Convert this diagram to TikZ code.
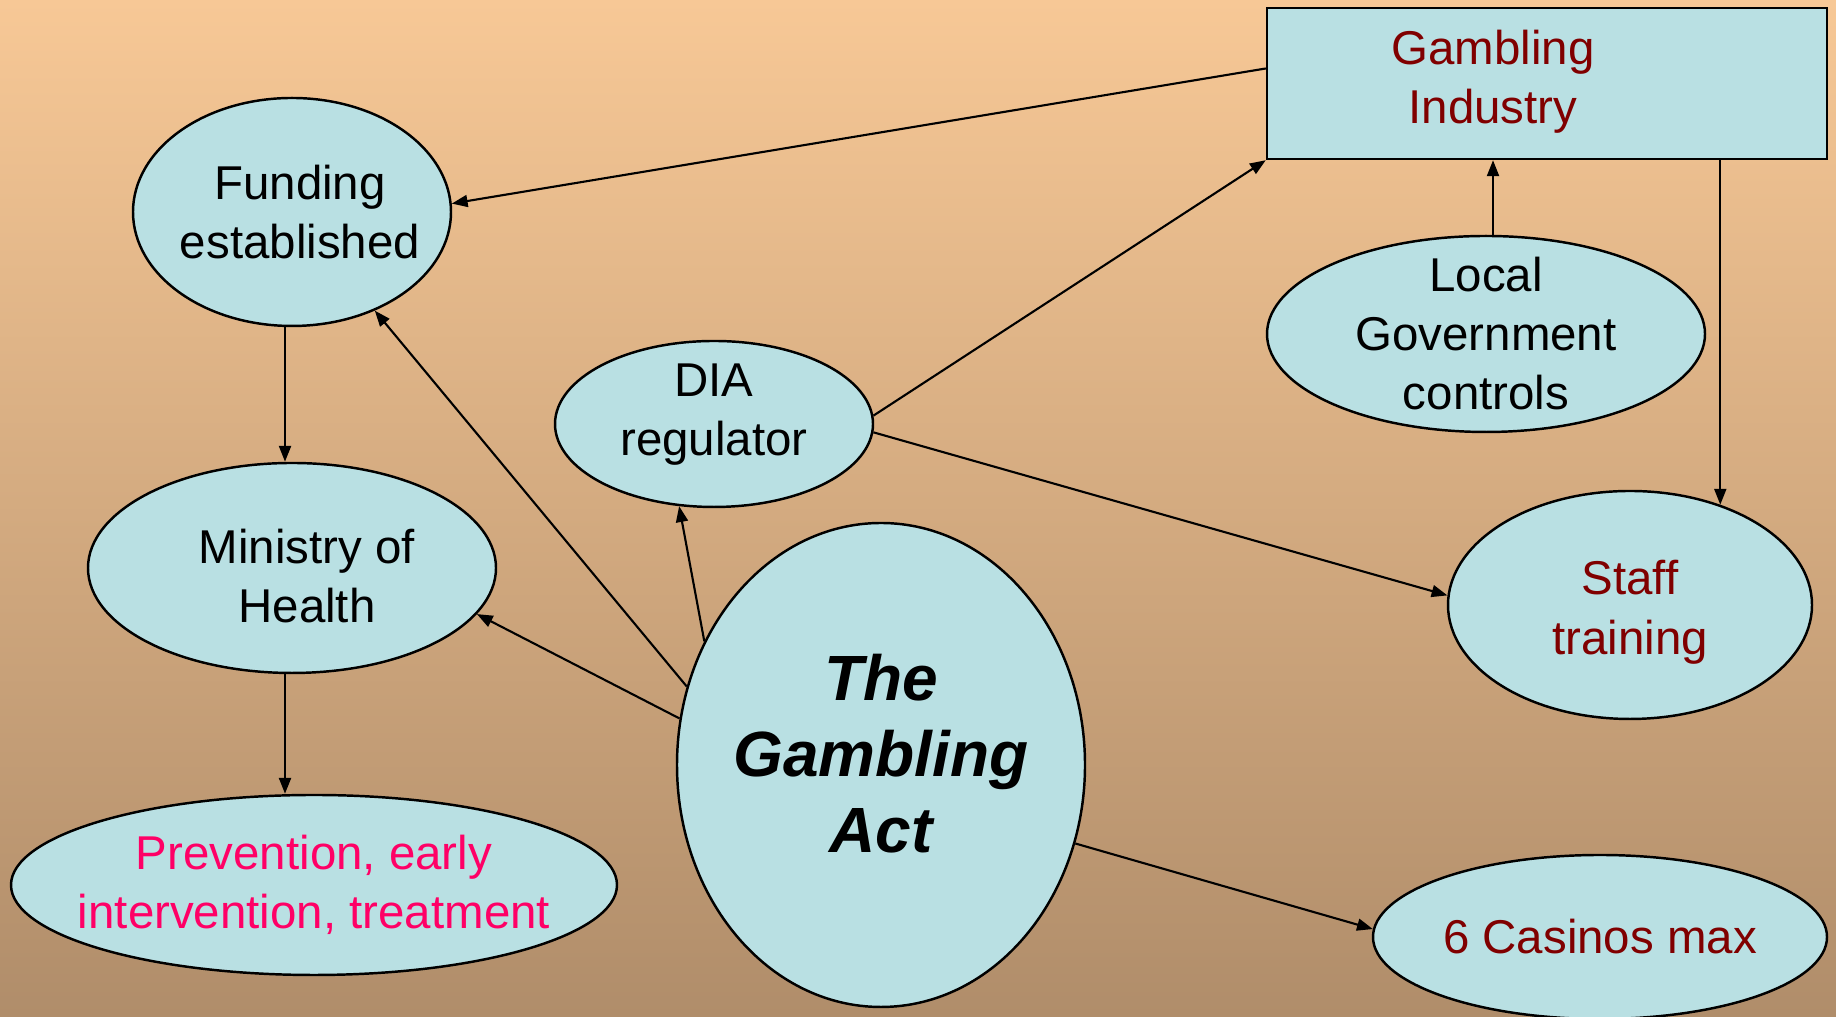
\documentclass[tikz,border=0pt]{standalone}
\usepackage{fontspec}
\setmainfont{Liberation Sans}
\usetikzlibrary{arrows.meta, shapes.geometric}
\definecolor{bgtop}{HTML}{F7C896}
\definecolor{bgbot}{HTML}{B08D6A}
\definecolor{nodefill}{HTML}{B9E0E3}
\definecolor{darkred}{HTML}{800000}
\definecolor{hotpink}{HTML}{FF0066}

\begin{document}
\begin{tikzpicture}[
        >={Triangle[length=4.5pt, width=3.4pt]},
        ov/.style={ellipse, draw, fill=nodefill, line width=0.7pt, inner sep=-0.5cm,
            align=center, font=\fontsize{13.5}{16.8}\selectfont},
        bx/.style={rectangle, draw, fill=nodefill, line width=0.7pt, inner sep=0pt},
        txt/.style={align=center, font=\fontsize{13.5}{16.8}\selectfont},
        e/.style={->, line width=0.6pt}
    ]
        \shade[top color=bgtop, bottom color=bgbot] (0,0) rectangle (18.36,10.17);
        \useasboundingbox (0,0) rectangle (18.36,10.17);

        \node[bx, minimum width=5.60cm, minimum height=1.51cm] (gi) at (15.47,9.335) {};
        \node[txt, text=darkred] (gitxt) at (14.93,9.35) {Gambling\\Industry};
        \node[ov, minimum width=3.18cm, minimum height=2.28cm] (fund) at (2.92,8.05)
            {\hspace*{0.16cm}Funding\\\hspace*{0.16cm}established};
        \node[ov, minimum width=3.18cm, minimum height=1.66cm] (dia) at (7.14,5.93)
            {DIA\\regulator\rule[-7.9pt]{0pt}{0pt}};
        \node[ov, minimum width=4.38cm, minimum height=1.96cm] (lg) at (14.86,6.83) {Local\\Government\\controls};
        \node[ov, minimum width=4.08cm, minimum height=2.10cm] (min) at (2.92,4.49)
            {\hspace*{0.3cm}\rule{0pt}{14.4pt}Ministry of\\\hspace*{0.3cm}Health};
        \node[ov, minimum width=4.08cm, minimum height=4.84cm,
            font=\fontsize{18.2}{21.6}\selectfont\bfseries\itshape] (act) at (8.81,2.52)
            {The\\Gambling\\Act\rule[-6.8pt]{0pt}{0pt}};
        \node[ov, minimum width=3.64cm, minimum height=2.28cm, text=darkred] (staff) at (16.30,4.12)
            {\rule{0pt}{13.9pt}Staff\\training};
        \node[ov, minimum width=6.06cm, minimum height=1.80cm, text=hotpink] (prev) at (3.14,1.32)
            {Prevention, early\\intervention, treatment};
        \node[ov, minimum width=4.54cm, minimum height=1.64cm, text=darkred] (cas) at (16.00,0.80) {6 Casinos max};

        % industry links
        \draw[e] ([yshift=0.15cm]gi.west) -- (fund.3);
        \draw[e] (gi.south -| staff.48) -- (staff.48);
        \draw[e] (dia.3) -- (gi.south west);
        \coordinate (lgtop) at ([xshift=0.07cm]lg.north);
        \draw[e] (lgtop) -- (lgtop |- gi.south);

        % health chain
        \coordinate (fbot) at ([xshift=-0.07cm]fund.south);
        \draw[e] (fbot) -- (fbot |- min.north);
        \coordinate (mbot) at ([xshift=-0.07cm]min.south);
        \draw[e] (mbot) -- (mbot |- prev.north);

        % DIA to staff
        \draw[e] (dia.-3) -- (staff.177);

        % from the Act
        \draw[e] (act.158) -- (fund.-50);
        \draw[e] (act.145) -- (dia.247);
        \draw[e] (act.167) -- (min.-14);
        \draw[e] (act.-22) -- (cas.178);
    \end{tikzpicture}
\end{document}
